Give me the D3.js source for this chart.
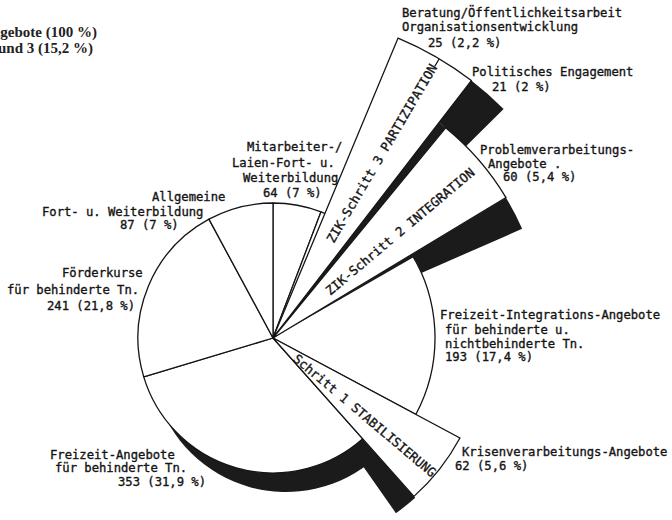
<!DOCTYPE html>
<html><head><meta charset="utf-8">
<script src="https://cdn.jsdelivr.net/npm/d3@7"></script>
<style>body{margin:0;background:#fff}svg{display:block}</style>
</head><body>
<svg id="c" width="672" height="520"></svg>
<script>
// ---- data ----
const categories = [
  "Mitarbeiter-/Laien-Fort- u. Weiterbildung",
  "Beratung/Öffentlichkeitsarbeit Organisationsentwicklung",
  "Politisches Engagement",
  "Problemverarbeitungs-Angebote",
  "Freizeit-Integrations-Angebote für behinderte u. nichtbehinderte Tn.",
  "Krisenverarbeitungs-Angebote",
  "Freizeit-Angebote für behinderte Tn.",
  "Förderkurse für behinderte Tn.",
  "Allgemeine Fort- u. Weiterbildung"
];
const values = [64, 25, 21, 60, 193, 62, 353, 241, 87];
const percentLabels = ["7 %", "2,2 %", "2 %", "5,4 %", "17,4 %", "5,6 %", "31,9 %", "21,8 %", "7 %"];
const labelLines = [
  ["Mitarbeiter-/", "Laien-Fort- u.", "Weiterbildung"],
  ["Beratung/Öffentlichkeitsarbeit", "Organisationsentwicklung"],
  ["Politisches Engagement"],
  ["Problemverarbeitungs-", "Angebote ."],
  ["Freizeit-Integrations-Angebote", "für behinderte u.", "nichtbehinderte Tn."],
  ["Krisenverarbeitungs-Angebote"],
  ["Freizeit-Angebote", "für behinderte Tn."],
  ["Förderkurse", "für behinderte Tn."],
  ["Allgemeine", "Fort- u. Weiterbildung"]
];
const stepOf = [0, 3, 3, 2, 0, 1, 0, 0, 0];
const stepNames = ["Schritt 1 STABILISIERUNG", "ZIK-Schritt 2 INTEGRATION", "ZIK-Schritt 3 PARTIZIPATION"];
const titleLines = ["Alle Angebote (100 %)", "Schritte 1, 2 und 3 (15,2 %)"];

// ---- layout (positions / styles) ----
const deg = Math.PI / 180;
const C = [273, 338];
const R0 = 135, R_FI = 162, R1 = 212, R2 = 272, R3 = 325;
const shadow = [13, 19];
const FONT = "'DejaVu Sans Mono', monospace";
const INK = "#141414";
const labelPos = [
  {x: [247, 232, 243, 263], y: [151, 167, 182, 197]},
  {x: [402, 402, 428], y: [17, 31, 47]},
  {x: [472, 492], y: [76, 91]},
  {x: [480, 488, 503], y: [154, 168, 181]},
  {x: [440, 445, 445, 445], y: [318.5, 333.5, 347.5, 361]},
  {x: [462, 455], y: [456, 469.5]},
  {x: [50, 55, 118], y: [459, 472, 486]},
  {x: [62, 7, 47], y: [277, 294, 310]},
  {x: [152, 42, 120], y: [201, 216, 229]}
];

const svg = d3.select("#c");
const pie = d3.pie().sort(null).value(d => d).startAngle(0).endAngle(2 * Math.PI);
const arcs = pie(values);
const g = svg.append("g").attr("transform", `translate(${C[0]},${C[1]})`);
const arc = (ri, ro, a0, a1) => d3.arc()({innerRadius: ri, outerRadius: ro, startAngle: a0, endAngle: a1});
const SW = 1.3;

const iFA = 6, iK = 5, iFI = 4, iProb = 3, iBer = 1, iPol = 2;

// 1. 3D thickness of main pie (under Freizeit-Angebote)
g.append("path")
  .attr("transform", `translate(${shadow[0]},${shadow[1]})`)
  .attr("d", arc(0, R0, arcs[iFA].startAngle, arcs[iFA].endAngle))
  .attr("fill", "#1b1b1b");

// 2. side face of step 1 wedge
const K = arcs[iK];
g.append("path").attr("d", arc(R0 - 8, R1 + 2, K.endAngle, K.endAngle + 6.6 * deg)).attr("fill", "#1b1b1b");

// 3. base pie
g.selectAll("path.base").data(arcs).join("path").attr("class", "base")
  .attr("d", d => arc(0, R0, d.startAngle, d.endAngle))
  .attr("fill", "#fff").attr("stroke", INK).attr("stroke-width", SW).attr("stroke-linejoin", "round");

// 4. Freizeit-Integration slice (larger radius)
const FI = arcs[iFI];
g.append("path").attr("d", arc(0, R_FI, FI.startAngle, FI.endAngle))
  .attr("fill", "#fff").attr("stroke", INK).attr("stroke-width", SW);

// 5. step 3 wedge (Beratung + Politisches)
const rot3 = 1.8 * deg;
const z3s = arcs[iBer].startAngle + rot3, z3e = arcs[iPol].endAngle + rot3;
g.append("path").attr("d", arc(0, R2, z3e, z3e + 1.8 * deg)).attr("fill", "#1b1b1b");
g.append("path").attr("d", arc(R2, R3, z3e, z3e + 7.6 * deg)).attr("fill", "#1b1b1b");
g.append("path").attr("d", arc(0, R3, z3s, z3e))
  .attr("fill", "#fff").attr("stroke", INK).attr("stroke-width", SW);
const tickA = arcs[iBer].endAngle + rot3;
g.append("line")
  .attr("x1", Math.sin(tickA) * (R3 - 9)).attr("y1", -Math.cos(tickA) * (R3 - 9))
  .attr("x2", Math.sin(tickA) * R3).attr("y2", -Math.cos(tickA) * R3)
  .attr("stroke", INK).attr("stroke-width", SW);

// 6. step 2 wedge (Problemverarbeitung)
const z2s = z3e + 1.8 * deg;
const z2e = z2s + (arcs[iProb].endAngle - arcs[iProb].startAngle);
g.append("path").attr("d", arc(0, R_FI, z2e, z2e + 1.2 * deg)).attr("fill", "#1b1b1b");
g.append("path").attr("d", arc(R_FI, R2, z2e, z2e + 7.4 * deg)).attr("fill", "#1b1b1b");
g.append("path").attr("d", arc(0, R2, z2s, z2e))
  .attr("fill", "#fff").attr("stroke", INK).attr("stroke-width", SW);

// 7. step 1 wedge (Krisenverarbeitung)
g.append("path").attr("d", arc(0, R1, K.startAngle, K.endAngle))
  .attr("fill", "#fff").attr("stroke", INK).attr("stroke-width", SW);

// ---- step texts along the wedges ----
const stepText = [
  {a: 130.2, r: 29},
  {a: 50, r: 71},
  {a: 30.5, r: 112}
];
stepText.forEach((s, i) => {
  const x = Math.sin(s.a * deg) * s.r, y = -Math.cos(s.a * deg) * s.r;
  g.append("text")
    .attr("transform", `translate(${x},${y}) rotate(${s.a - 90})`)
    .attr("dominant-baseline", "central")
    .attr("font-family", FONT).attr("font-size", 12.6).attr("fill", INK)
    .attr("stroke", INK).attr("stroke-width", 0.35)
    .text(stepNames[i]);
});

// ---- labels ----
labelLines.forEach((lines, i) => {
  const all = lines.concat([`${values[i]} (${percentLabels[i]})`]);
  const p = labelPos[i];
  all.forEach((t, j) => {
    svg.append("text").attr("x", p.x[j]).attr("y", p.y[j])
      .attr("font-family", FONT).attr("font-size", 12.2).attr("fill", INK)
      .attr("stroke", INK).attr("stroke-width", 0.35)
      .style("white-space", "pre")
      .text(t);
  });
});

// ---- cropped title ----
titleLines.forEach((t, j) => {
  svg.append("text").attr("x", j === 0 ? 97 : 93).attr("y", j === 0 ? 37 : 53)
    .attr("text-anchor", "end")
    .attr("font-family", "'Liberation Serif', serif").attr("font-weight", "bold")
    .attr("font-size", 15).attr("fill", "#222").text(t);
});
</script>
</body></html>
